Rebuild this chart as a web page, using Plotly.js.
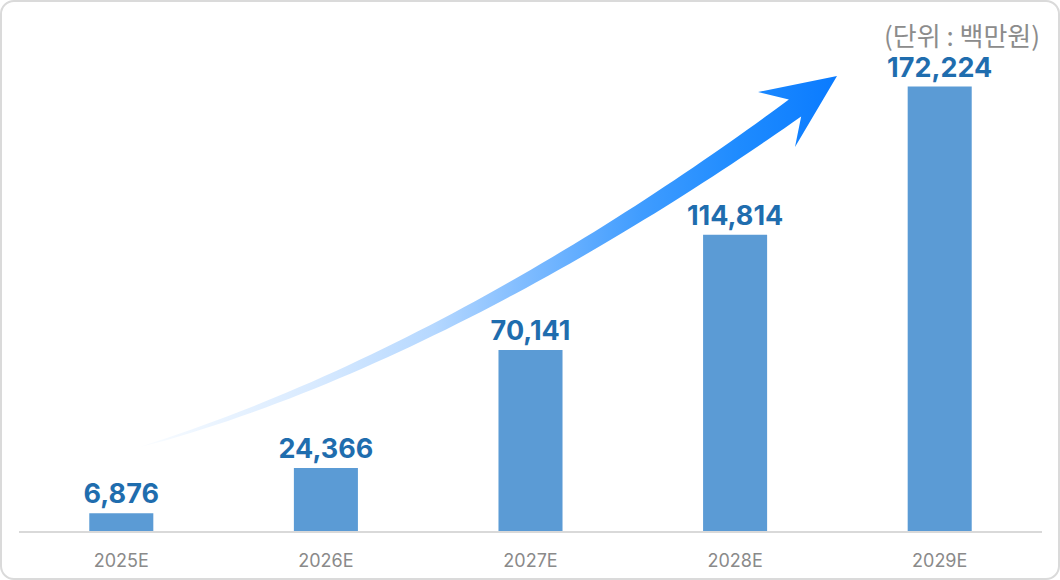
<!DOCTYPE html>
<html>
<head>
<meta charset="utf-8">
<script src="https://cdn.plot.ly/plotly-3.0.1.min.js"></script>
<style>
  html, body { margin: 0; padding: 0; background: #ffffff; }
  #wrap { position: relative; width: 1060px; height: 580px; }
  #chart { position: absolute; left: 0; top: 0; width: 1060px; height: 580px; }
  #frame { position: absolute; left: 0; top: 0; width: 1060px; height: 580px; box-sizing: border-box;
           border: 2px solid #dadada; border-radius: 14px; pointer-events: none; }
</style>
</head>
<body>
<div id="wrap">
  <div id="chart"></div>
  <div id="frame"></div>
</div>
<script>
// ---- data ----
const years = ['2025E', '2026E', '2027E', '2028E', '2029E'];
const revenue = [6876, 24366, 70141, 114814, 172224];
const unitLabel = '(단위 : 백만원)';

// ---- layout constants (pixels) ----
const W = 1060, H = 580;
const M = { l: 19, r: 18, t: 20, b: 49 };
const plotL = M.l, plotR = W - M.r, plotT = M.t, plotB = H - M.b;

// ---- decorative growth arrow (pixel space on overlay axes) ----
function bez(p0, p1, p2, p3, t) {
  const u = 1 - t;
  return [
    u*u*u*p0[0] + 3*u*u*t*p1[0] + 3*u*t*t*p2[0] + t*t*t*p3[0],
    u*u*u*p0[1] + 3*u*u*t*p1[1] + 3*u*t*t*p2[1] + t*t*t*p3[1]
  ];
}
function bezD(p0, p1, p2, p3, t) {
  const u = 1 - t;
  return [
    3*u*u*(p1[0]-p0[0]) + 6*u*t*(p2[0]-p1[0]) + 3*t*t*(p3[0]-p2[0]),
    3*u*u*(p1[1]-p0[1]) + 6*u*t*(p2[1]-p1[1]) + 3*t*t*(p3[1]-p2[1])
  ];
}
const A0 = [140, 447], A1 = [390, 375], A2 = [633, 225], A3 = [795, 108];
const upper = [], lower = [];
const N = 60;
for (let i = 0; i <= N; i++) {
  const t = i / N;
  const p = bez(A0, A1, A2, A3, t);
  const d = bezD(A0, A1, A2, A3, t);
  const len = Math.hypot(d[0], d[1]);
  const nx = -d[1] / len, ny = d[0] / len; // normal
  const w = 21 * Math.pow(t, 0.72) / 2;
  upper.push([p[0] - nx * w, p[1] - ny * w]);
  lower.push([p[0] + nx * w, p[1] + ny * w]);
}
// arrow head
const head = [[758, 92], [837, 76], [795, 147]];
const poly = [];
upper.forEach(p => poly.push(p));
head.forEach(p => poly.push(p));
for (let i = lower.length - 1; i >= 0; i--) poly.push(lower[i]);
poly.push(upper[0]);

const arrowTrace = {
  type: 'scatter',
  x: poly.map(p => p[0]),
  y: poly.map(p => p[1]),
  xaxis: 'x2', yaxis: 'y2',
  mode: 'none',
  fill: 'toself',
  fillgradient: {
    type: 'horizontal',
    colorscale: [
      [0, '#fbfdff'],
      [0.08, '#eef6ff'],
      [0.25, '#d8eaff'],
      [0.42, '#b6d8ff'],
      [0.55, '#80bcff'],
      [0.72, '#3f9cff'],
      [0.86, '#1e8bff'],
      [1, '#0a7bff']
    ]
  },
  hoverinfo: 'skip',
  showlegend: false
};

const barTrace = {
  type: 'bar',
  x: years,
  y: revenue,
  marker: { color: '#5b9bd5' },
  texttemplate: '<b>%{y:,}</b>',
  textposition: 'outside',
  constraintext: 'none',
  textfont: { family: 'Inter, Roboto, sans-serif', size: 27, color: '#1f6dae' },
  cliponaxis: false,
  hoverinfo: 'skip',
  showlegend: false
};

const layout = {
  width: W, height: H,
  margin: M,
  paper_bgcolor: 'rgba(0,0,0,0)',
  plot_bgcolor: 'rgba(0,0,0,0)',
  bargap: 0.687,
  font: { family: 'Inter, Roboto, sans-serif' },
  xaxis: {
    type: 'category',
    showline: true, linecolor: '#d9d9d9', linewidth: 1.5,
    showgrid: false, zeroline: false,
    ticks: '', ticklabelstandoff: 13,
    tickfont: { family: 'Inter, Roboto, sans-serif', size: 18, color: '#8a8a8a' },
    fixedrange: true
  },
  yaxis: {
    range: [0, 198000],
    visible: false, showgrid: false, zeroline: false,
    fixedrange: true
  },
  xaxis2: {
    overlaying: 'x', anchor: 'y2',
    range: [plotL, plotR],
    visible: false, showgrid: false, zeroline: false, fixedrange: true
  },
  yaxis2: {
    overlaying: 'y', anchor: 'x2',
    range: [plotB, plotT],
    visible: false, showgrid: false, zeroline: false, fixedrange: true
  },
  annotations: [{
    text: unitLabel,
    xref: 'paper', yref: 'paper',
    x: 1, y: (plotB - 34) / (plotB - plotT),
    xanchor: 'right', yanchor: 'middle',
    showarrow: false,
    font: { family: '"Noto Sans CJK KR", "Noto Sans", sans-serif', size: 26, color: '#8c8c8c' }
  }]
};

Plotly.newPlot('chart', [barTrace, arrowTrace], layout, { staticPlot: true, displayModeBar: false });
</script>
</body>
</html>
